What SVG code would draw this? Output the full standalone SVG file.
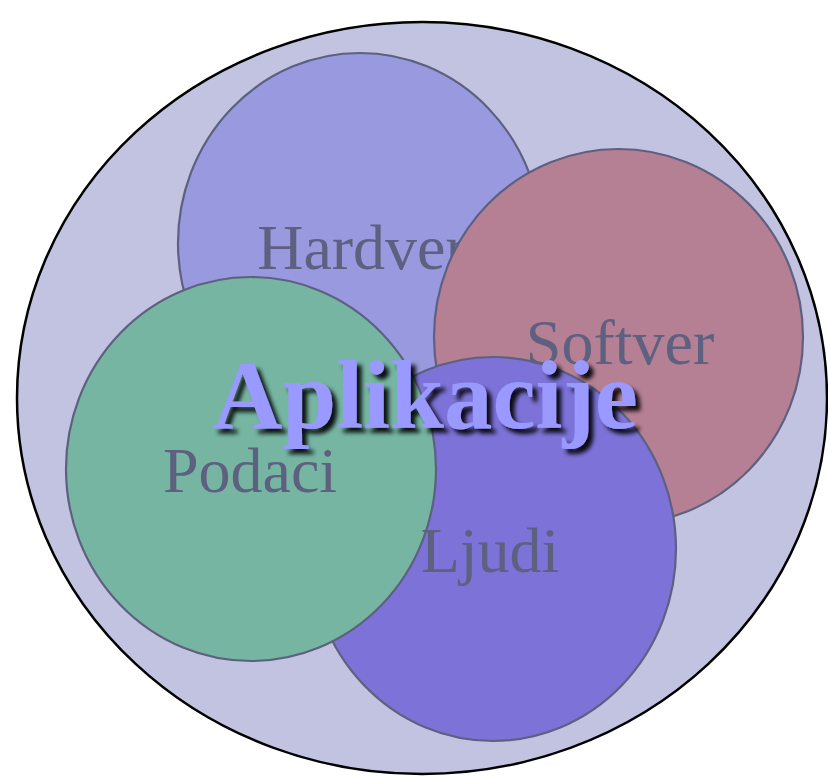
<svg xmlns="http://www.w3.org/2000/svg" width="828" height="776" viewBox="0 0 828 776">
<defs>
<filter id="shadow" x="-10%" y="-20%" width="130%" height="150%">
<feDropShadow dx="5" dy="5" stdDeviation="2" flood-color="#000000" flood-opacity="0.9"/>
</filter>
</defs>
<style>
.set{stroke:#5e6080;stroke-width:2.2}
.lbl{font-family:"Liberation Serif","Times New Roman",serif;font-size:64px;fill:#5e6080;text-anchor:middle}
.title{font-family:"Liberation Serif","Times New Roman",serif;font-size:97px;font-weight:bold;fill:#9999ff;text-anchor:middle}
</style>
<g id="outer">
<ellipse cx="422" cy="398" rx="405" ry="376" fill="#c2c3e0" stroke="#000000" stroke-width="2.5"/>
</g>
<g id="hardver">
<ellipse class="set" cx="360" cy="243" rx="182" ry="190" fill="#9899de"/>
<text class="lbl" x="362" y="269">Hardver</text>
</g>
<g id="softver">
<ellipse class="set" cx="618.5" cy="337" rx="184.5" ry="188" fill="#b57f94"/>
</g>
<g id="ljudi">
<ellipse class="set" cx="493" cy="549" rx="183" ry="192" fill="#7c72d8"/>
</g>
<g id="podaci">
<ellipse class="set" cx="251" cy="469" rx="185" ry="192" fill="#75b5a2"/>
</g>
<g id="labels">
<text class="lbl" x="620" y="364">Softver</text>
<text class="lbl" x="250" y="492">Podaci</text>
<text class="lbl" x="490" y="572">Ljudi</text>
</g>
<g id="aplikacije">
<text class="title" x="425" y="428" filter="url(#shadow)">Aplikacije</text>
</g>
<g id="connectors"/>
</svg>
